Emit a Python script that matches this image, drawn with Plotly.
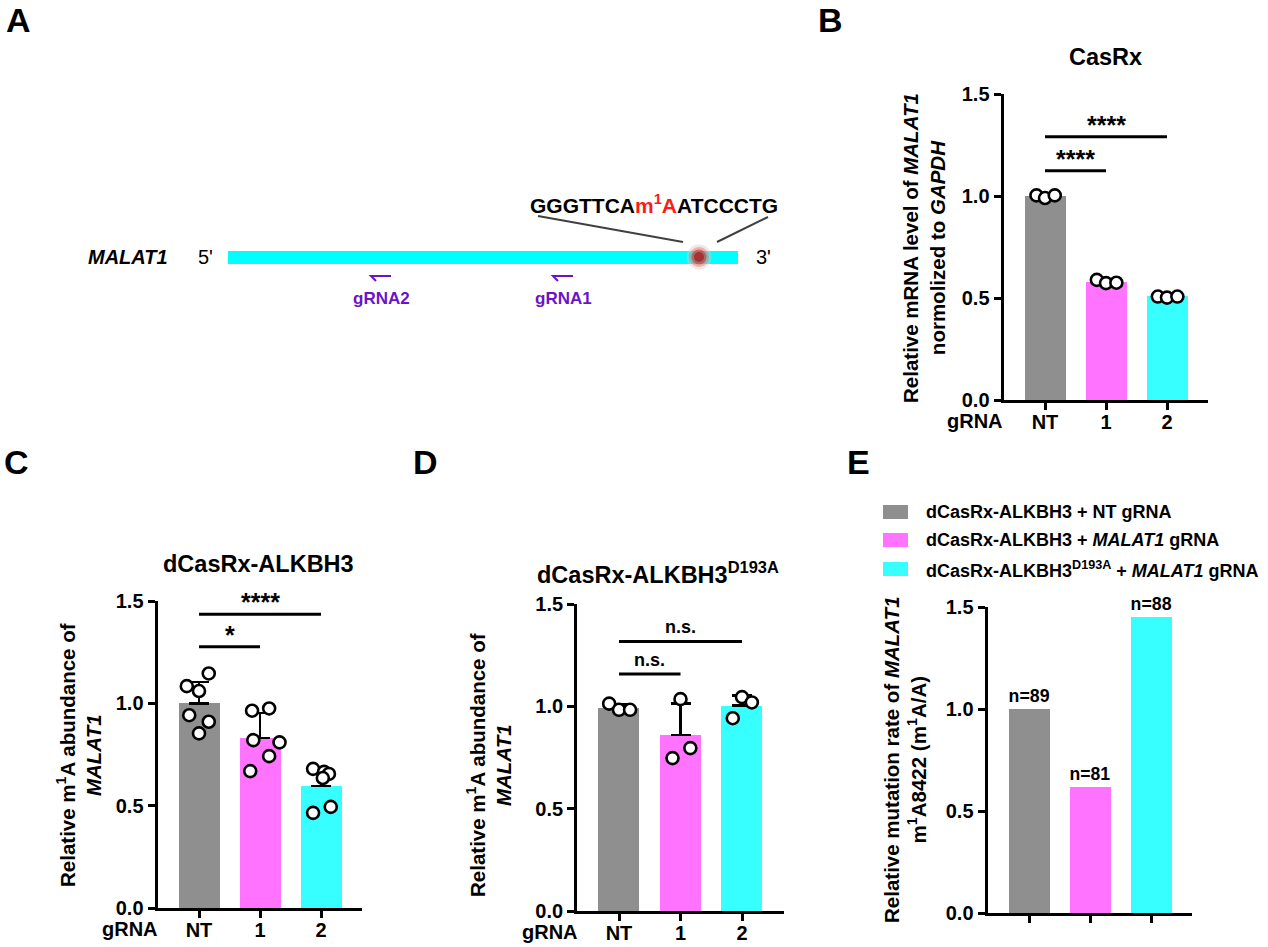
import plotly.graph_objects as go

W, H = 1268, 947
FONT = "Arial, Liberation Sans, sans-serif"

# ---------------- data ----------------
categories = ["NT", "1", "2"]
bar_colors = ["#8f8f8f", "#ff73ff", "#38ffff"]

# Panel B: CasRx knockdown
b_means = [1.0, 0.578, 0.508]
b_points = [[1.003, 0.990, 1.003], [0.589, 0.573, 0.575], [0.507, 0.502, 0.507]]
b_jitter = [[-0.14, 0.0, 0.16], [-0.15, 0.0, 0.17], [-0.15, 0.0, 0.17]]
b_sig = [(0, 1, 1.124, "****"), (0, 2, 1.29, "****")]

# Panel C: dCasRx-ALKBH3
c_means = [1.0, 0.83, 0.595]
c_sd = [0.105, 0.124, 0.09]
c_points = [[1.146, 1.084, 1.06, 0.942, 0.91, 0.853],
            [0.975, 0.964, 0.82, 0.809, 0.742, 0.669],
            [0.68, 0.665, 0.655, 0.635, 0.494, 0.465]]
c_jitter = [[0.16, -0.2, 0.0, -0.16, 0.16, 0.0],
            [0.15, -0.13, -0.11, 0.32, 0.15, -0.16],
            [-0.13, 0.05, 0.13, 0.03, 0.16, -0.13]]
c_sig = [(0, 1, 1.277, "*"), (0, 2, 1.435, "****")]

# Panel D: dCasRx-ALKBH3 D193A
d_means = [0.993, 0.86, 1.003]
d_sd = [0.017, 0.153, 0.05]
d_points = [[1.013, 0.983, 0.983], [1.035, 0.747, 0.796], [0.942, 1.045, 1.019]]
d_jitter = [[-0.16, 0.0, 0.18], [0.0, -0.13, 0.16], [-0.15, 0.0, 0.16]]
d_sig = [(0, 1, 1.158, "n.s."), (0, 2, 1.317, "n.s.")]

# Panel E: mutation rate
e_values = [1.0, 0.616, 1.451]
e_labels = ["n=89", "n=81", "n=88"]
e_legend = ["dCasRx-ALKBH3 + NT gRNA",
            "dCasRx-ALKBH3 + <i>MALAT1</i> gRNA",
            "dCasRx-ALKBH3<sup>D193A</sup> + <i>MALAT1</i> gRNA"]

y_ticks = [0, 0.5, 1.0, 1.5]
y_ticktext = ["0.0", "0.5", "1.0", "1.5"]

# ---------------- layout helpers ----------------
XR = [-0.68, 2.68]


def xdom(nt_px, spacing):
    return [(nt_px + XR[0] * spacing) / W, (nt_px + XR[1] * spacing) / W]


def ydom(y0_px, y15_px):
    return [1 - y0_px / H, 1 - y15_px / H]


fig = go.Figure()

panels = {
    "": dict(nt=1045, sp=61, y0=400, y15=94),
    "2": dict(nt=199, sp=61, y0=908, y15=601),
    "3": dict(nt=619, sp=61.5, y0=911, y15=604),
    "4": dict(nt=1029, sp=61, y0=913, y15=607),
}

bold = dict(family=FONT, color="black", weight="bold")
TICK = 20

for k, p in panels.items():
    fig.update_layout(**{
        "xaxis" + k: dict(domain=xdom(p["nt"], p["sp"]), range=XR, automargin=False,
                          anchor="y" + k, showline=True, linewidth=3, linecolor="black",
                          ticks="outside", ticklen=7, tickwidth=3, tickcolor="black",
                          tickvals=[0, 1, 2], ticktext=categories, ticklabelstandoff=-5,
                          showticklabels=(k != "4"), showgrid=False, zeroline=False,
                          tickfont=dict(size=TICK, **bold), fixedrange=True),
        "yaxis" + k: dict(domain=ydom(p["y0"], p["y15"]), range=[0, 1.5], automargin=False,
                          anchor="x" + k, showline=True, linewidth=3, linecolor="black",
                          ticks="outside", ticklen=7, tickwidth=3, tickcolor="black",
                          tickvals=y_ticks, ticktext=y_ticktext, showgrid=False,
                          zeroline=False, tickfont=dict(size=TICK, **bold), fixedrange=True),
    })

# pixel overlay axis for panel A and free text
fig.update_layout(
    xaxis5=dict(domain=[0, 1], range=[0, W], visible=False, anchor="y5", fixedrange=True,
                automargin=False),
    yaxis5=dict(domain=[0, 1], range=[H, 0], visible=False, anchor="x5", fixedrange=True,
                automargin=False),
)

BAR_W = 0.67


def add_bar_panel(k, means, points, jitter, sd=None):
    xa, ya = "x" + k, "y" + k
    fig.add_trace(go.Bar(
        x=[0, 1, 2], y=means, width=BAR_W, marker=dict(color=bar_colors, line=dict(width=0)),
        error_y=(dict(type="data", symmetric=False, array=sd, arrayminus=[0, 0, 0],
                      color="black", thickness=2.5, width=10) if sd else None),
        xaxis=xa, yaxis=ya, showlegend=False, hoverinfo="skip"))
    xs, ys = [], []
    for i, (pts, jit) in enumerate(zip(points, jitter)):
        for v, j in zip(pts, jit):
            xs.append(i + j)
            ys.append(v)
    fig.add_trace(go.Scatter(
        x=xs, y=ys, mode="markers", xaxis=xa, yaxis=ya, showlegend=False, cliponaxis=False,
        hoverinfo="skip",
        marker=dict(size=12, color="white", line=dict(color="black", width=2.6))))


def add_sig(k, sigs, size, gap):
    for x0, x1, y, lab in sigs:
        fig.add_shape(type="line", x0=x0, x1=x1, y0=y, y1=y, xref="x" + k, yref="y" + k,
                      line=dict(color="black", width=3))
        fig.add_annotation(x=(x0 + x1) / 2, y=y, xref="x" + k, yref="y" + k, text=lab,
                           showarrow=False, yanchor="bottom", yshift=gap,
                           font=dict(size=size, **bold))


add_bar_panel("", b_means, b_points, b_jitter)
add_sig("", b_sig, 25, -4)
add_bar_panel("2", c_means, c_points, c_jitter, c_sd)
add_sig("2", c_sig, 25, -4)
add_bar_panel("3", d_means, d_points, d_jitter, d_sd)
add_sig("3", d_sig, 18, 2)

fig.add_trace(go.Bar(
    x=[0, 1, 2], y=e_values, width=BAR_W, marker=dict(color=bar_colors, line=dict(width=0)),
    text=e_labels, textposition="outside", cliponaxis=False,
    textfont=dict(size=19, **bold), xaxis="x4", yaxis="y4", showlegend=False, hoverinfo="skip"))


def ann(x, y, text, size=19, xanchor="center", yanchor="middle", angle=0, color="black",
        weight="bold", **kw):
    fig.add_annotation(x=x, y=y, xref="x5", yref="y5", text=text, showarrow=False,
                       xanchor=xanchor, yanchor=yanchor, textangle=angle,
                       font=dict(family=FONT, size=size, color=color, weight=weight), **kw)


# panel letters
for lab, x, y in [("A", 18, 20), ("B", 830, 20), ("C", 16, 462), ("D", 425, 462), ("E", 858, 462)]:
    ann(x, y, lab, size=34)

# titles
ann(1105, 57, "CasRx", size=23.5)
ann(258, 564, "dCasRx-ALKBH3", size=23.5)
ann(535, 573, "dCasRx-ALKBH3<sup>D193A</sup>", size=23.5, xanchor="left")

# y-axis titles
ann(924, 248, "Relative mRNA level of <i>MALAT1</i><br>normolized to <i>GAPDH</i>", size=20.5, angle=-90)
ann(79, 755, "Relative m<sup>1</sup>A abundance of<br><i>MALAT1</i>", size=20.5, angle=-90)
ann(489, 765, "Relative m<sup>1</sup>A abundance of<br><i>MALAT1</i>", size=20.5, angle=-90)
ann(905, 760, "Relative mutation rate of <i>MALAT1</i><br>m<sup>1</sup>A8422 (m<sup>1</sup>A/A)", size=20.5, angle=-90)

# gRNA row labels
ann(1005, 421, "gRNA", size=20, xanchor="right")
ann(160, 929, "gRNA", size=20, xanchor="right")
ann(580, 932, "gRNA", size=20, xanchor="right")

# legend for E
for i, (txt, col) in enumerate(zip(e_legend, bar_colors)):
    yc = [512, 540, 569][i]
    fig.add_shape(type="rect", x0=883, x1=908, y0=yc - 7, y1=yc + 7, xref="x5", yref="y5",
                  fillcolor=col, line=dict(width=0))
    ann(924, yc, txt, size=18, xanchor="left")

# ---------------- panel A schematic ----------------
ann(128, 257, "<i>MALAT1</i>", size=20)
ann(205, 257, "5'", size=20, weight="normal")
ann(763, 257, "3'", size=20, weight="normal")
fig.add_shape(type="rect", x0=228, x1=738, y0=251, y1=264, xref="x5", yref="y5",
              fillcolor="#00ffff", line=dict(width=0), layer="below")
fig.add_shape(type="line", x0=538, y0=216, x1=683, y1=242, xref="x5", yref="y5",
              line=dict(color="#404040", width=2))
fig.add_shape(type="line", x0=768, y0=217, x1=717, y1=242, xref="x5", yref="y5",
              line=dict(color="#404040", width=2))
# m1A site: concentric discs give a soft glow round a dark red core
fig.add_trace(go.Scatter(x=[699, 699, 699, 699], y=[257, 257, 257, 257], mode="markers",
                         xaxis="x5", yaxis="y5", showlegend=False, hoverinfo="skip",
                         marker=dict(size=[25, 20, 15, 10], line=dict(width=0),
                                     color=["rgba(235,190,190,0.6)", "rgba(215,110,110,0.6)",
                                            "rgba(185,50,50,0.8)", "#a51c1c"])))
ann(654, 204, "GGGTTCA<span style='color:#ff1a1a'>m<sup>1</sup>A</span>ATCCCTG", size=21)

PURPLE = "#6a14c8"
for cx, lab in [(381, "gRNA2"), (563, "gRNA1")]:
    fig.add_shape(type="path", path=f"M {cx+10} 276 L {cx-10} 276 L {cx-5} 281",
                  xref="x5", yref="y5", line=dict(color=PURPLE, width=2))
    ann(cx, 298, lab, size=17, color=PURPLE)

fig.update_layout(width=W, height=H, margin=dict(l=0, r=0, t=0, b=0, autoexpand=False),
                  paper_bgcolor="white", plot_bgcolor="rgba(0,0,0,0)", showlegend=False,
                  font=dict(family=FONT, color="black"), bargap=0)

fig.write_html("out.html")
